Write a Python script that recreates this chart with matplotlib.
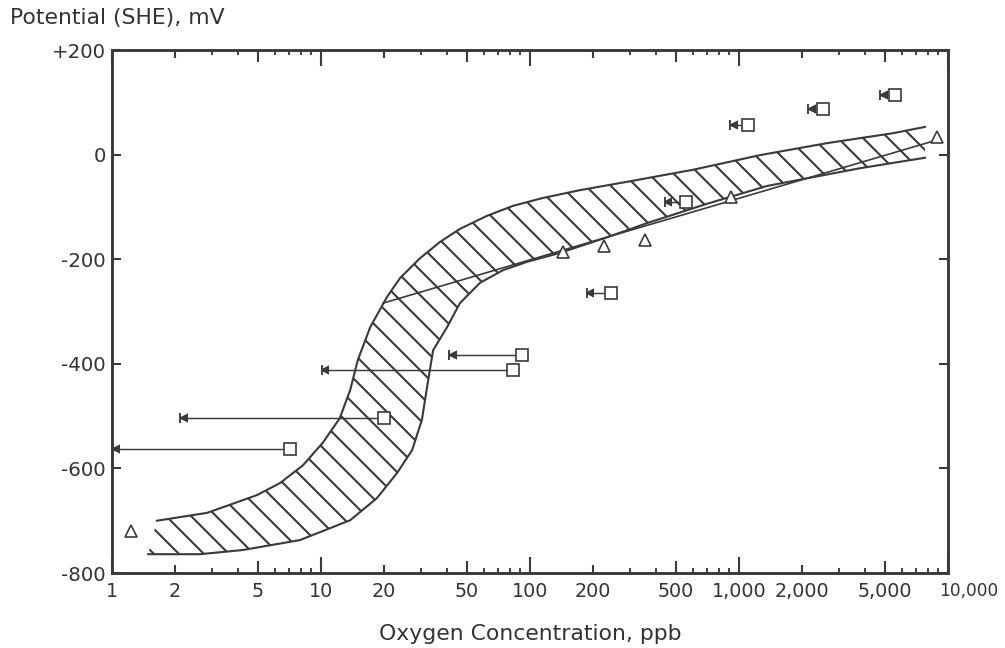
import numpy as np
import matplotlib
matplotlib.use('Agg')
from matplotlib import pyplot as plt
from matplotlib.ticker import FixedLocator, NullFormatter
from matplotlib.transforms import ScaledTranslation

# hatched band, upper/left edge (ppb, mV)
band_top_x = [1.64, 2.85, 4.94, 6.37, 8.2, 10.2, 12.3, 13.8, 15.0, 17.2, 20.7, 23.9, 29.8, 37.1,
              46.2, 62.3, 82.9, 115, 173, 291, 602, 1260, 2640, 5460, 7760]
band_top_y = [-700, -685, -651, -628, -594, -551, -504, -450, -393, -330, -272, -236, -198, -167,
              -142, -117, -98, -83, -68, -52, -29, -1, 22, 41, 53]
# hatched band, lower/right edge
band_bot_x = [1.49, 2.64, 4.23, 7.93, 13.8, 18.5, 23.1, 27.3, 30.4, 32.2, 34.4, 40.1, 46.2, 57.7,
              74.3, 96.7, 139, 234, 363, 703, 1360, 3790, 7760]
band_bot_y = [-764, -764, -756, -737, -699, -657, -609, -565, -507, -444, -374, -330, -284, -245,
              -221, -205, -188, -158, -131, -94, -60, -26, -6]

# straight line through the triangles
fit_x = [19.8, 8860]
fit_y = [-284, 28]

# squares with lower concentration bound
sq_x = [7.1, 20.0, 82.9, 91.5, 244, 558, 1105, 2520, 5580]
sq_y = [-563, -504, -412, -383, -265, -91, 57, 87, 114]
sq_low = [1.01, 2.12, 10.1, 41, 187, 442, 906, 2140, 4730]

# triangles
tri_x = [1.23, 144, 226, 355, 915, 8860]
tri_y = [-720, -186, -175, -163, -81, 34]

x_ticks = [1, 2, 5, 10, 20, 50, 100, 200, 500, 1000, 2000, 5000, 10000]
x_labels = ['1', '2', '5', '10', '20', '50', '100', '200', '500', '1,000', '2,000', '5,000', '10,000']
y_ticks = [-800, -600, -400, -200, 0, 200]
y_labels = ['-800', '-600', '-400', '-200', '0', '+200']

ink = '#3a3a3a'
txt = '#333333'
plt.rcParams['hatch.linewidth'] = 1.0

fig = plt.figure(figsize=(6.7, 4.32), dpi=150)
ax = fig.add_axes([0.1114, 0.1157, 0.8319, 0.8071])
ax.set_xscale('log')
ax.set_xlim(1, 10000)
ax.set_ylim(-800, 200)

# band
poly_x = band_top_x + band_bot_x[::-1]
poly_y = band_top_y + band_bot_y[::-1]
ax.fill(poly_x, poly_y, facecolor='none', edgecolor=ink, linewidth=0, hatch='\\\\')
ax.plot(band_top_x, band_top_y, color=ink, lw=1.0)
ax.plot(band_bot_x, band_bot_y, color=ink, lw=1.0)

ax.plot(fit_x, fit_y, color=ink, lw=0.8)

# squares + error bars
sq_x = np.array(sq_x)
sq_low = np.array(sq_low)
ax.errorbar(sq_x, sq_y, xerr=[sq_x - sq_low, np.zeros_like(sq_x)], fmt='none',
            ecolor=ink, elinewidth=0.7, capsize=2.5, capthick=0.9)
ax.plot(sq_low * 1.04, sq_y, ls='none', marker='<', ms=2.6, color=ink)
ax.plot(sq_x, sq_y, ls='none', marker='s', ms=5.5, mfc='white', mec=ink, mew=0.8, zorder=5)

ax.plot(tri_x, tri_y, ls='none', marker='^', ms=5.5, mfc='white', mec=ink, mew=0.8, zorder=5)

# axes styling
for s in ax.spines.values():
    s.set_linewidth(1.4)
    s.set_color(ink)

ax.xaxis.set_major_locator(FixedLocator(x_ticks))
ax.set_xticklabels(x_labels)
minor = [m * 10 ** k for k in range(4) for m in (3, 4, 6, 7, 8, 9)]
ax.xaxis.set_minor_locator(FixedLocator(minor))
ax.xaxis.set_minor_formatter(NullFormatter())
ax.yaxis.set_major_locator(FixedLocator(y_ticks))
ax.set_yticklabels(y_labels)

ax.tick_params(which='both', direction='in', top=True, right=True, color=ink,
               labelcolor=txt, labelsize=9.5)
ax.tick_params(axis='x', which='major', length=7.7, width=1.0, pad=4.5, labelsize=9.2)
ax.tick_params(axis='x', which='minor', length=2.4, width=0.9)
ax.tick_params(axis='y', which='major', length=4.5, width=1.0, pad=3)

for t, v in zip(ax.xaxis.get_major_ticks(), x_ticks):
    lead = round(v / 10 ** int(np.floor(np.log10(v))))
    if lead == 2:
        t.tick1line.set_markersize(3.8)
        t.tick2line.set_markersize(3.8)
    elif lead == 5:
        t.tick1line.set_markersize(5.8)
        t.tick2line.set_markersize(5.8)

# last label sits right of its tick, kept inside the figure
last = ax.get_xticklabels()[-1]
last.set_fontsize(8.2)
last.set_horizontalalignment('right')
last.set_transform(last.get_transform() + ScaledTranslation(50 / 150, 0, fig.dpi_scale_trans))

fig.text(10 / 1005, 1 - 18 / 648, 'Potential (SHE), mV', fontsize=10.5, color=txt,
         ha='left', va='center')
fig.text(530 / 1005, 1 - 634 / 648, 'Oxygen Concentration, ppb', fontsize=10.5, color=txt,
         ha='center', va='center')

fig.savefig('out.png', dpi=150)
